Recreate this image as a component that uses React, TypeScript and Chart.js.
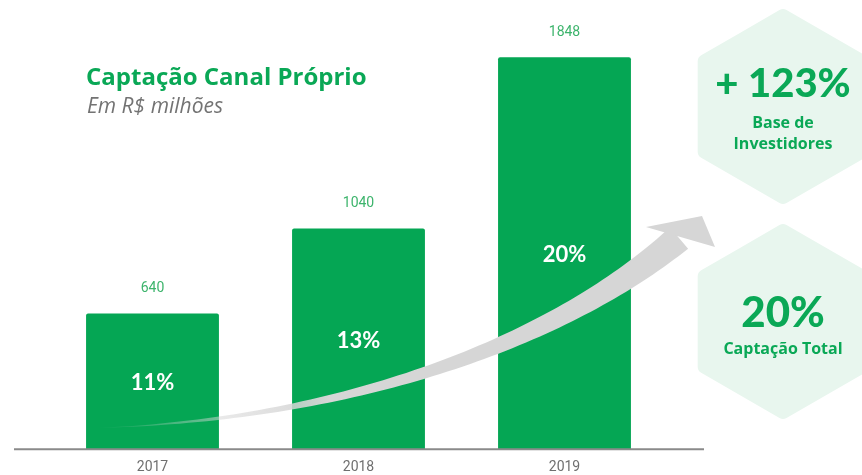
import React, { useEffect, useRef } from 'react';
import { Chart, registerables } from 'chart.js';

Chart.register(...registerables);

const categories = ['2017', '2018', '2019'];
const values = [640, 1040, 1848];
const shareLabels = ['11%', '13%', '20%'];
const yMax = 2000;
const titleText = 'Captação Canal Próprio';
const subtitleText = 'Em R$ milhões';
const hexTopBig = '+ 123%';
const hexTopLines = ['Base de', 'Investidores'];
const hexBottomBig = '20%';
const hexBottomLines = ['Captação Total'];

const GREEN = '#05A654';
const TEXT_GREEN = '#0AA856';
const HEX_FILL = '#E8F6EE';
const ARROW = '#D6D6D6';

function hexPath(ctx: CanvasRenderingContext2D, cx: number, cy: number, r: number, rad: number) {
  const pts: [number, number][] = [];
  for (let i = 0; i < 6; i++) {
    const a = (-90 + 60 * i) * Math.PI / 180;
    pts.push([cx + r * Math.cos(a), cy + r * Math.sin(a)]);
  }
  ctx.beginPath();
  const m0 = [(pts[5][0] + pts[0][0]) / 2, (pts[5][1] + pts[0][1]) / 2];
  ctx.moveTo(m0[0], m0[1]);
  for (let i = 0; i < 6; i++) {
    const p = pts[i];
    const q = pts[(i + 1) % 6];
    ctx.arcTo(p[0], p[1], q[0], q[1], rad);
  }
  ctx.closePath();
}

function bez(t: number, p: number[][]) {
  const u = 1 - t;
  const x = u * u * u * p[0][0] + 3 * u * u * t * p[1][0] + 3 * u * t * t * p[2][0] + t * t * t * p[3][0];
  const y = u * u * u * p[0][1] + 3 * u * u * t * p[1][1] + 3 * u * t * t * p[2][1] + t * t * t * p[3][1];
  return [x, y];
}
function bezD(t: number, p: number[][]) {
  const u = 1 - t;
  const x = 3 * u * u * (p[1][0] - p[0][0]) + 6 * u * t * (p[2][0] - p[1][0]) + 3 * t * t * (p[3][0] - p[2][0]);
  const y = 3 * u * u * (p[1][1] - p[0][1]) + 6 * u * t * (p[2][1] - p[1][1]) + 3 * t * t * (p[3][1] - p[2][1]);
  return [x, y];
}

const decorPlugin = {
  id: 'decor',
  beforeDraw(chart: any) {
    const ctx: CanvasRenderingContext2D = chart.ctx;
    ctx.save();
    ctx.fillStyle = HEX_FILL;
    hexPath(ctx, 783, 106.5, 98.5, 7);
    ctx.fill();
    hexPath(ctx, 783, 321.5, 98.5, 7);
    ctx.fill();

    ctx.textAlign = 'left';
    ctx.textBaseline = 'middle';
    ctx.fillStyle = TEXT_GREEN;
    ctx.font = 'bold 24px "Open Sans"';
    ctx.fillText(titleText, 86, 78);
    ctx.fillStyle = '#737373';
    ctx.font = 'italic 21px "Open Sans"';
    ctx.fillText(subtitleText, 87, 107);
    ctx.restore();
  },
  afterDatasetsDraw(chart: any) {
    const ctx: CanvasRenderingContext2D = chart.ctx;
    const meta = chart.getDatasetMeta(0);
    const y = chart.scales.y;
    const base = y.getPixelForValue(0);
    ctx.save();
    // baseline
    ctx.strokeStyle = '#8a8a8a';
    ctx.lineWidth = 2;
    ctx.beginPath();
    ctx.moveTo(14, base);
    ctx.lineTo(704, base);
    ctx.stroke();

    // arrow body
    const P = [[95, 428], [350, 420], [560, 340], [679, 238]];
    const N = 80;
    const W = 28;
    const left: number[][] = [];
    const right: number[][] = [];
    for (let i = 0; i <= N; i++) {
      const t = i / N;
      const p = bez(t, P);
      const d = bezD(t, P);
      const len = Math.hypot(d[0], d[1]);
      const nx = -d[1] / len;
      const ny = d[0] / len;
      const w = (W * Math.pow(t, 1.2)) / 2;
      left.push([p[0] + nx * w, p[1] + ny * w]);
      right.push([p[0] - nx * w, p[1] - ny * w]);
    }
    const grad = ctx.createLinearGradient(95, 428, 330, 400);
    grad.addColorStop(0, 'rgba(214,214,214,0)');
    grad.addColorStop(1, ARROW);
    ctx.fillStyle = grad;
    ctx.beginPath();
    ctx.moveTo(left[0][0], left[0][1]);
    for (const p of left) ctx.lineTo(p[0], p[1]);
    for (let i = right.length - 1; i >= 0; i--) ctx.lineTo(right[i][0], right[i][1]);
    ctx.closePath();
    ctx.fill();
    ctx.fillStyle = ARROW;
    ctx.beginPath();
    ctx.moveTo(646, 227);
    ctx.lineTo(702, 216);
    ctx.lineTo(715, 247);
    ctx.closePath();
    ctx.fill();

    // labels
    ctx.textAlign = 'center';
    ctx.textBaseline = 'middle';
    meta.data.forEach((bar: any, i: number) => {
      ctx.fillStyle = '#3DB46C';
      ctx.font = '14px Roboto';
      ctx.fillText(String(values[i]), bar.x, bar.y - 25);
      ctx.fillStyle = '#ffffff';
      ctx.font = 'bold 22px Lato';
      ctx.fillText(shareLabels[i], bar.x, (bar.y + bar.base) / 2 + 2);
    });
    ctx.restore();
  },
  afterDraw(chart: any) {
    const ctx: CanvasRenderingContext2D = chart.ctx;
    ctx.save();
    ctx.textAlign = 'center';
    ctx.textBaseline = 'middle';
    ctx.fillStyle = TEXT_GREEN;
    ctx.font = '900 40px Lato';
    ctx.fillText(hexTopBig, 783, 84);
    ctx.font = 'bold 16px "Open Sans"';
    hexTopLines.forEach((l, i) => ctx.fillText(l, 783, 123 + i * 21));
    ctx.font = '900 42px Lato';
    ctx.fillText(hexBottomBig, 783, 313);
    ctx.font = 'bold 16px "Open Sans"';
    hexBottomLines.forEach((l, i) => ctx.fillText(l, 783, 349 + i * 21));
    ctx.restore();
  },
};

export default function App() {
  const ref = useRef<HTMLCanvasElement>(null);
  useEffect(() => {
    document.body.style.margin = '0';
    const chart = new Chart(ref.current as HTMLCanvasElement, {
      type: 'bar',
      data: {
        labels: categories,
        datasets: [
          {
            data: values,
            backgroundColor: GREEN,
            borderRadius: { topLeft: 2, topRight: 2, bottomLeft: 0, bottomRight: 0 },
            borderSkipped: false,
            barPercentage: 0.645,
            categoryPercentage: 1,
          },
        ],
      },
      options: {
        responsive: false,
        animation: false,
        devicePixelRatio: 1,
        layout: { padding: { left: 49.5, right: 194.5, top: 25, bottom: -11 } },
        plugins: { legend: { display: false }, tooltip: { enabled: false } },
        scales: {
          x: {
            grid: { display: false, drawTicks: false },
            border: { display: false },
            ticks: { color: '#6f6f6f', font: { family: 'Roboto', size: 14 }, padding: 10 },
          },
          y: { display: false, min: 0, max: yMax },
        },
      },
      plugins: [decorPlugin],
    });
    return () => chart.destroy();
  }, []);
  return (
    <div style={{ width: 862, height: 475 }}>
      <canvas ref={ref} width={862} height={475} />
    </div>
  );
}
